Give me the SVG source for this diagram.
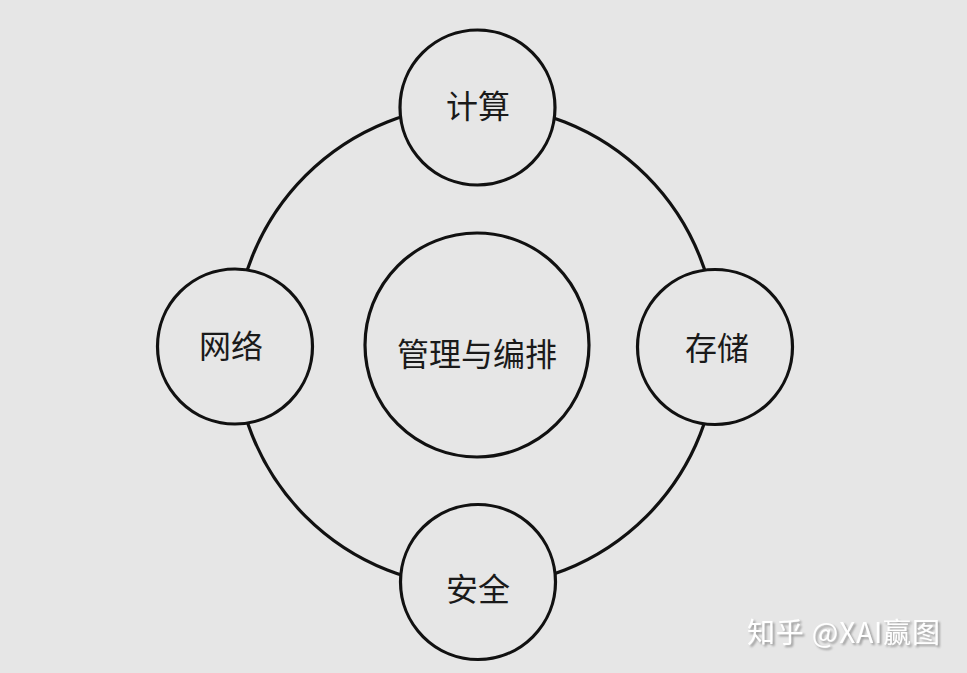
<svg xmlns="http://www.w3.org/2000/svg" width="967" height="673" viewBox="0 0 967 673">
<defs>
<filter id="sh" x="-10%" y="-30%" width="120%" height="160%">
<feDropShadow dx="2" dy="2" stdDeviation="0.8" flood-color="#999"/>
</filter>
</defs>
<style>
.ring{fill:none;stroke:#111;stroke-width:3.2}
.node{fill:#e6e6e6;stroke:#111;stroke-width:3.2}
.lbl{font-family:"Noto Sans CJK SC","Liberation Sans",sans-serif;font-size:32px;fill:#1a1a1a;text-anchor:middle;dominant-baseline:central}
.wm{font-family:"Noto Sans CJK SC","Liberation Sans",sans-serif;font-size:28px;fill:#fff;text-anchor:start}
</style>
<rect width="967" height="673" fill="#e6e6e6"/>
<g id="connectors">
<circle class="ring" cx="476" cy="346" r="241"/>
</g>
<g id="center">
<circle class="node" cx="477" cy="345" r="112"/>
<text class="lbl" x="477" y="352">管理与编排</text>
</g>
<g id="compute">
<circle class="node" cx="477.5" cy="107.5" r="77.5"/>
<text class="lbl" x="478" y="104">计算</text>
</g>
<g id="network">
<circle class="node" cx="235" cy="346.5" r="77.5"/>
<text class="lbl" x="231" y="344">网络</text>
</g>
<g id="storage">
<circle class="node" cx="715" cy="347" r="77.5"/>
<text class="lbl" x="717" y="346">存储</text>
</g>
<g id="security">
<circle class="node" cx="478" cy="582" r="77.5"/>
<text class="lbl" x="478" y="587">安全</text>
</g>
<g id="watermark">
<text class="wm" x="747" y="643" filter="url(#sh)" textLength="193">知乎 @XAI赢图</text>
</g>
</svg>
